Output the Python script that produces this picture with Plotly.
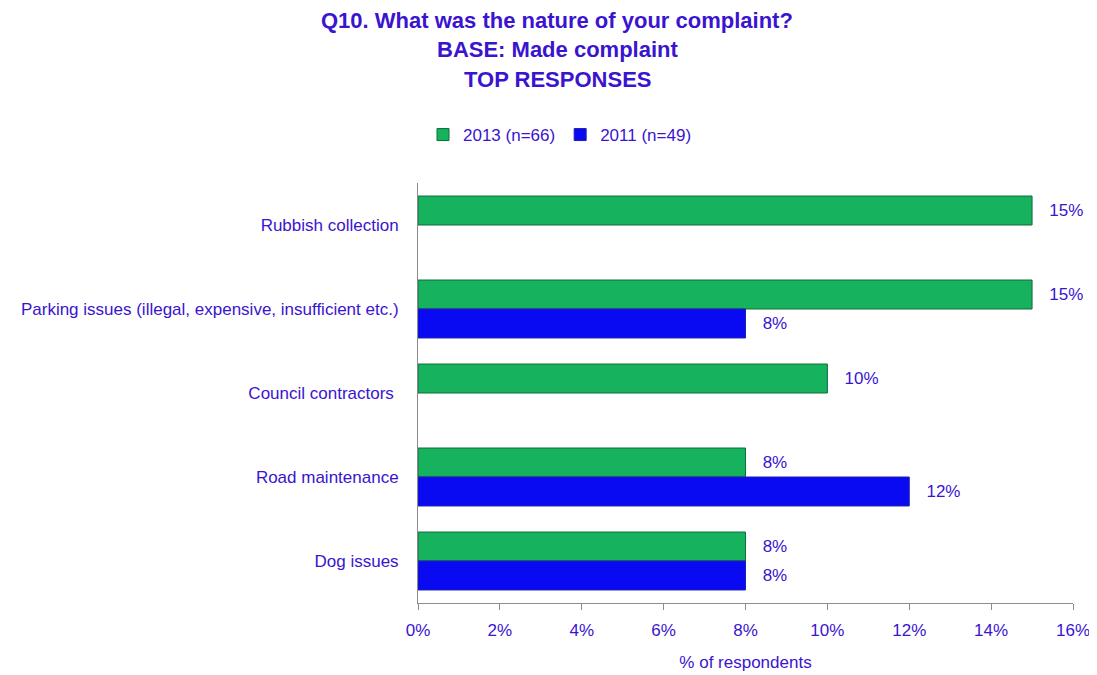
import plotly.graph_objects as go

categories = ["Rubbish collection", "Parking issues (illegal, expensive, insufficient etc.)",
              "Council contractors ", "Road maintenance", "Dog issues"]
values_2013 = [15, 15, 10, 8, 8]
values_2011 = [None, 8, None, 12, 8]
tick_vals = [0, 2, 4, 6, 8, 10, 12, 14, 16]
tick_text = [f"{v}%" for v in tick_vals]
title_lines = ["Q10. What was the nature of your complaint?", "BASE: Made complaint", "TOP RESPONSES"]

TXT = "#3A14CF"
FONT = "Liberation Sans, Arial"
FS = 17
OFF = 8  # page body offset

def lab(vals):
    return [("   " + f"{v}%") if v is not None else "" for v in vals]

fig = go.Figure()
fig.add_trace(go.Bar(
    y=categories, x=values_2013, orientation="h", name="2013 (n=66)",
    marker=dict(color="#16B25E", line=dict(color="#0B6E38", width=1)),
    text=lab(values_2013), textposition="outside", cliponaxis=False,
    textfont=dict(color=TXT, size=FS, family=FONT),
))
fig.add_trace(go.Bar(
    y=categories, x=values_2011, orientation="h", name="2011 (n=49)",
    marker=dict(color="#0A0AF2", line=dict(color="#2020B0", width=1)),
    text=lab(values_2011), textposition="outside", cliponaxis=False,
    textfont=dict(color=TXT, size=FS, family=FONT),
))

# title lines as annotations (plot area in page px: top 183, bottom 603, left 418, width 655)
title_y_px = [20, 49, 79]
for line, ypx in zip(title_lines, title_y_px):
    fig.add_annotation(
        text=f"<b>{line}</b>", xref="paper", yref="paper",
        x=(557 - 418) / 655, y=(603 - ypx) / 420, xanchor="center", yanchor="middle",
        showarrow=False, font=dict(family=FONT, size=22, color=TXT),
    )

fig.update_layout(
    width=1097, height=675,
    paper_bgcolor="white", plot_bgcolor="white",
    barmode="group", bargap=0.31, bargroupgap=0,
    margin=dict(l=418 - OFF, r=1097 - (1073 - OFF), t=183 - OFF, b=675 - (603 - OFF)),
    font=dict(family=FONT, color=TXT, size=FS),
    legend=dict(orientation="h", xref="container", yref="container",
                x=(560 - OFF) / 1097, xanchor="center", y=1 - (135 - OFF) / 675, yanchor="middle",
                font=dict(size=FS, color=TXT, family=FONT), itemwidth=30,
                tracegroupgap=0),
    xaxis=dict(range=[0, 16], tickvals=tick_vals, ticktext=tick_text, automargin=False,
               showgrid=False, zeroline=False, showline=True, linecolor="#8C8C8C", linewidth=1,
               ticks="outside", ticklen=6, tickcolor="#8C8C8C", ticklabelstandoff=6,
               tickfont=dict(size=FS, color=TXT, family=FONT),
               title=dict(text="% of respondents", font=dict(size=FS, color=TXT, family=FONT), standoff=16)),
    yaxis=dict(autorange="reversed", showgrid=False, showline=True, linecolor="#8C8C8C", linewidth=1,
               ticks="", ticklabelstandoff=15, automargin=False,
               tickfont=dict(size=FS, color=TXT, family=FONT)),
)

fig.write_html("out.html")
